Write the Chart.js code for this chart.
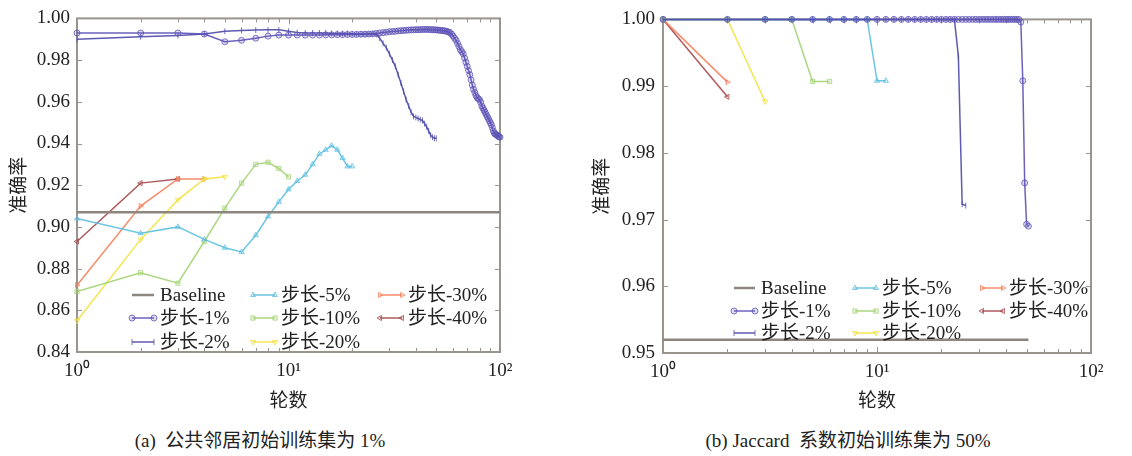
<!DOCTYPE html>
<html>
<head>
<meta charset="utf-8">
<script src="https://cdn.jsdelivr.net/npm/chart.js@4.4.0/dist/chart.umd.min.js"></script>
<style>
  html, body { margin: 0; padding: 0; background: #fff; }
  #wrap { position: relative; width: 1132px; height: 456px; overflow: hidden; }
  .panel { position: absolute; top: 0; width: 566px; height: 420px; }
  .cap { position: absolute; top: 425px; font: 19px "Liberation Serif", "Noto Sans CJK SC", serif; color: #222;
         transform: translateX(-50%); white-space: pre; }
</style>
</head>
<body>
<div id="wrap">
  <div class="panel" style="left:0"><canvas id="chartA" width="566" height="420"></canvas></div>
  <div class="panel" style="left:566px"><canvas id="chartB" width="566" height="420"></canvas></div>
  <div class="cap" style="left:260px">(a)  公共邻居初始训练集为 1%</div>
  <div class="cap" style="left:848px">(b) Jaccard  系数初始训练集为 50%</div>
</div>
<script>
// ---------- Data (accuracy per round, round = index + 1) ----------
const seriesNames = ['Baseline', '步长-1%', '步长-2%', '步长-5%', '步长-10%', '步长-20%', '步长-30%', '步长-40%'];

// (a) common neighbours, initial training set 1%
const baselineRoundsA = [1, 100];
const baselineA = [0.907, 0.907];
const step1A = [
  0.993, 0.993, 0.993, 0.9925, 0.9888, 0.9895, 0.9905, 0.9915, 0.992, 0.992,
  0.992, 0.992, 0.992, 0.992, 0.9921, 0.9921, 0.9922, 0.9922, 0.9923, 0.9923,
  0.9923, 0.9924, 0.9924, 0.9925, 0.9926, 0.9928, 0.993, 0.9932, 0.9934, 0.9936,
  0.9937, 0.9938, 0.994, 0.9941, 0.9942, 0.9943, 0.9944, 0.9945, 0.9945, 0.9946,
  0.9946, 0.9946, 0.9947, 0.9947, 0.9947, 0.9947, 0.9946, 0.9946, 0.9945, 0.9945,
  0.9944, 0.9943, 0.9942, 0.9941, 0.994, 0.9938, 0.9935, 0.9932, 0.9925, 0.9915,
  0.9905, 0.9895, 0.988, 0.9865, 0.985, 0.984, 0.983, 0.981, 0.979, 0.977,
  0.975, 0.973, 0.9705, 0.968, 0.966, 0.9645, 0.963, 0.962, 0.9615, 0.961,
  0.9598, 0.958, 0.957, 0.956, 0.955, 0.954, 0.953, 0.952, 0.951, 0.950,
  0.949, 0.9476, 0.946, 0.945, 0.9445, 0.9442, 0.944, 0.9435, 0.9432, 0.943
];
const step2A = [
  0.990, 0.9912, 0.9918, 0.9925, 0.9938, 0.9942, 0.9944, 0.9945, 0.9945, 0.9938,
  0.9932, 0.993, 0.993, 0.993, 0.993, 0.9928, 0.9928, 0.9927, 0.9927, 0.9926,
  0.9926, 0.9925, 0.9925, 0.9925, 0.9925, 0.9923, 0.9905, 0.988, 0.986, 0.983,
  0.980, 0.977, 0.973, 0.969, 0.965, 0.961, 0.958, 0.955, 0.953, 0.9525,
  0.952, 0.9515, 0.951, 0.9495, 0.948, 0.946, 0.944, 0.943, 0.9425, 0.9425
];
const step5A = [0.904, 0.897, 0.900, 0.894, 0.890, 0.888, 0.896, 0.905, 0.912, 0.918,
                0.922, 0.925, 0.930, 0.935, 0.937, 0.939, 0.937, 0.933, 0.929, 0.929];
const step10A = [0.869, 0.878, 0.873, 0.893, 0.909, 0.921, 0.930, 0.931, 0.928, 0.924];
const step20A = [0.855, 0.894, 0.913, 0.923, 0.924];
const step30A = [0.872, 0.910, 0.923, 0.923];
const step40A = [0.893, 0.921, 0.923];

// (b) Jaccard, initial training set 50%
const baselineRoundsB = [1, 51];
const baselineB = [0.952, 0.952];
const step1B = [
  1, 1, 1, 1, 1, 1, 1, 1, 1, 1,
  1, 1, 1, 1, 1, 1, 1, 1, 1, 1,
  1, 1, 1, 1, 1, 1, 1, 1, 1, 1,
  1, 1, 1, 1, 1, 1, 1, 1, 1, 1,
  1, 1, 1, 1, 1, 1, 0.9996, 0.9908, 0.9755, 0.9693, 0.969
];
const step2B = [
  1, 1, 1, 1, 1, 1, 1, 1, 1, 1,
  1, 1, 1, 1, 1, 1, 1, 1, 1, 1,
  1, 1, 1, 0.9945, 0.9723, 0.9721
];
const step5B = [1, 1, 1, 1, 1, 1, 1, 1, 1, 0.9908, 0.9908];
const step10B = [1, 1, 1, 1, 0.9907, 0.9907];
const step20B = [1, 1, 0.9877];
const step30B = [1, 0.9906];
const step40B = [1, 0.9884];

// axis ticks
const xTickVals = [1, 10, 100];
const xTickLabels = ['10⁰', '10¹', '10²'];
const xMinorTicks = [2, 3, 4, 5, 6, 7, 8, 9, 20, 30, 40, 50, 60, 70, 80, 90];
const yTicksA = [0.84, 0.86, 0.88, 0.90, 0.92, 0.94, 0.96, 0.98, 1.00];
const yTicksB = [0.95, 0.96, 0.97, 0.98, 0.99, 1.00];

// ---------- Styles ----------
const FONT = '"Liberation Serif", "Noto Sans CJK SC", serif';
const TEXT = '#222';
const FRAME = '#9a948f';
const seriesColors = ['#8c8580', '#5b50b5', '#4b48a8', '#5cbfe0', '#a3d373', '#f2e23c', '#f47f5a', '#a5474a'];
const markerStyles = [false, 'circle', 'line', 'triangle', 'rect', 'triangle', 'triangle', 'triangle'];
const markerRotations = [0, 0, 90, 0, 0, 180, 90, -90];

function hexA(hex, a) {
  const n = parseInt(hex.slice(1), 16);
  return `rgba(${(n >> 16) & 255},${(n >> 8) & 255},${n & 255},${a})`;
}

function byRound(vals) { return vals.map((v, i) => ({ x: i + 1, y: v })); }

function buildDatasets(baseRounds, baseVals, lists) {
  const sets = [{
    label: seriesNames[0],
    data: baseRounds.map((r, i) => ({ x: r, y: baseVals[i] })),
    borderColor: seriesColors[0], borderWidth: 2.5, pointRadius: 0, pointStyle: false,
    clip: false
  }];
  lists.forEach((vals, k) => {
    const i = k + 1;
    sets.push({
      label: seriesNames[i],
      data: byRound(vals),
      borderColor: hexA(seriesColors[i], 0.9),
      borderWidth: 1.5,
      pointStyle: markerStyles[i],
      pointRotation: markerRotations[i],
      pointRadius: 3,
      pointBorderWidth: 1,
      pointBorderColor: hexA(seriesColors[i], 0.75),
      pointBackgroundColor: hexA(seriesColors[i], 0.2),
      tension: 0,
      clip: false
    });
  });
  return sets;
}

// frame with inward ticks on all four sides
const frameTicks = {
  id: 'frameTicks',
  beforeDatasetsDraw(chart, args, opts) {
    const { ctx, chartArea: a, scales: { x, y } } = chart;
    ctx.save();
    ctx.strokeStyle = FRAME;
    ctx.lineWidth = 1;
    ctx.beginPath();
    for (const v of xMinorTicks) {
      const px = Math.round(x.getPixelForValue(v)) + 0.5;
      ctx.moveTo(px, a.bottom); ctx.lineTo(px, a.bottom - 4);
      ctx.moveTo(px, a.top); ctx.lineTo(px, a.top + 4);
    }
    for (const v of xTickVals) {
      const px = Math.round(x.getPixelForValue(v)) + 0.5;
      ctx.moveTo(px, a.bottom); ctx.lineTo(px, a.bottom - 6);
      ctx.moveTo(px, a.top); ctx.lineTo(px, a.top + 6);
    }
    for (const v of opts.yTicks) {
      const py = Math.round(y.getPixelForValue(v)) + 0.5;
      ctx.moveTo(a.left, py); ctx.lineTo(a.left + 5, py);
      ctx.moveTo(a.right, py); ctx.lineTo(a.right - 5, py);
    }
    ctx.stroke();
    ctx.lineWidth = 2;
    ctx.strokeRect(a.left, a.top, a.right - a.left, a.bottom - a.top);
    ctx.restore();
  }
};

// legend drawn inside the plot, 3 rows, column-major
const inlineLegend = {
  id: 'inlineLegend',
  afterDraw(chart, args, opts) {
    const ctx = chart.ctx;
    const drawPoint = Chart.helpers && Chart.helpers.drawPoint;
    ctx.save();
    ctx.font = '19px ' + FONT;
    ctx.textBaseline = 'middle';
    chart.data.datasets.forEach((ds, i) => {
      const x0 = opts.cols[Math.floor(i / 3)];
      const y0 = opts.rows[i % 3];
      ctx.strokeStyle = ds.borderColor;
      ctx.lineWidth = ds.borderWidth;
      ctx.beginPath();
      ctx.moveTo(x0, y0); ctx.lineTo(x0 + opts.len, y0);
      ctx.stroke();
      if (ds.pointRadius && drawPoint) {
        ctx.lineWidth = 1;
        ctx.strokeStyle = ds.pointBorderColor;
        ctx.fillStyle = ds.pointBackgroundColor;
        for (const px of [x0, x0 + opts.len]) {
          drawPoint(ctx, { pointStyle: ds.pointStyle, rotation: ds.pointRotation, radius: 3, borderWidth: 1 }, px, y0);
        }
      }
      ctx.fillStyle = TEXT;
      ctx.fillText(ds.label, x0 + opts.len + 6, y0 + 1);
    });
    ctx.restore();
  }
};

function makeChart(id, datasets, cfg) {
  return new Chart(document.getElementById(id), {
    type: 'line',
    data: { datasets },
    options: {
      responsive: false,
      animation: false,
      layout: { padding: { top: 16, right: cfg.padRight, left: 0, bottom: 0 } },
      plugins: {
        legend: { display: false },
        tooltip: { enabled: false },
        frameTicks: { yTicks: cfg.yTicks },
        inlineLegend: cfg.legend
      },
      scales: {
        x: {
          type: 'logarithmic', min: 1, max: 100,
          grid: { display: false, drawTicks: false },
          border: { display: false },
          afterBuildTicks: s => { s.ticks = xTickVals.map(v => ({ value: v })); },
          afterFit: s => { s.height = cfg.xHeight; },
          ticks: {
            autoSkip: false, maxRotation: 0, padding: 8, color: TEXT,
            font: { family: FONT, size: 19 },
            callback: v => xTickLabels[xTickVals.indexOf(v)]
          },
          title: { display: true, text: '轮数', color: TEXT, font: { family: FONT, size: 19 }, padding: { top: 0, bottom: 7 } }
        },
        y: {
          type: 'linear', min: cfg.yTicks[0], max: cfg.yTicks[cfg.yTicks.length - 1],
          grid: { display: false, drawTicks: false },
          border: { display: false },
          afterBuildTicks: s => { s.ticks = cfg.yTicks.map(v => ({ value: v })); },
          afterFit: s => { s.width = cfg.yWidth; },
          ticks: {
            padding: cfg.yPad, color: TEXT, font: { family: FONT, size: 19 },
            callback: v => cfg.yFmt(v)
          },
          title: { display: true, text: '准确率', color: TEXT, font: { family: FONT, size: 19 }, padding: { top: cfg.yTitlePad, bottom: 0 } }
        }
      }
    },
    plugins: [frameTicks, inlineLegend]
  });
}

function drawAll() {
  makeChart('chartA',
    buildDatasets(baselineRoundsA, baselineA, [step1A, step2A, step5A, step10A, step20A, step30A, step40A]),
    {
      padRight: 66, xHeight: 68, yWidth: 77, yPad: 7, yTitlePad: 9,
      yTicks: yTicksA, yFmt: v => v.toFixed(2),
      legend: { cols: [132, 253, 380], rows: [295, 318, 342], len: 22 }
    });
  makeChart('chartB',
    buildDatasets(baselineRoundsB, baselineB, [step1B, step2B, step5B, step10B, step20B, step30B, step40B]),
    {
      padRight: 41, xHeight: 67, yWidth: 97, yPad: 8, yTitlePad: 26,
      yTicks: yTicksB, yFmt: v => v.toFixed(2),
      legend: { cols: [168, 289, 416], rows: [288, 311, 333], len: 21 }
    });
}

window.addEventListener('DOMContentLoaded', () => {
  const wait = document.fonts
    ? Promise.all([document.fonts.load('19px "Liberation Serif"'), document.fonts.load('19px "Noto Sans CJK SC"', '准确率')])
    : Promise.resolve();
  wait.catch(() => {}).then(drawAll);
});
</script>
</body>
</html>
